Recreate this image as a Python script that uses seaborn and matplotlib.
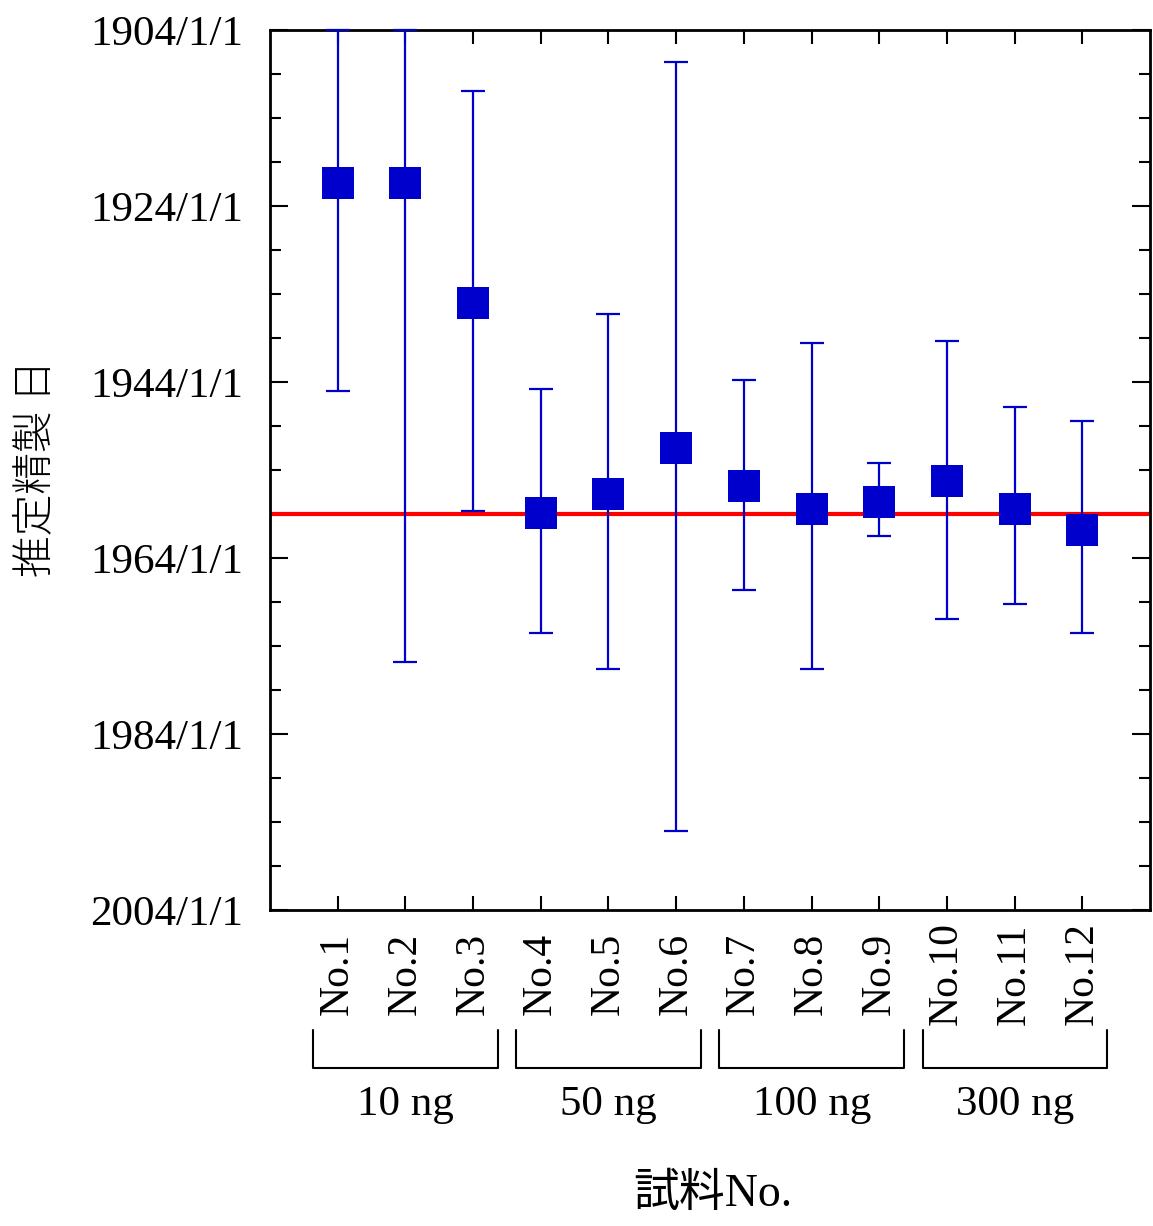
import numpy as np
import pandas as pd
import matplotlib
matplotlib.use("Agg")
import matplotlib.pyplot as plt
import matplotlib.transforms as mtransforms
import seaborn as sns

# ---- data ----
samples = ["No.1", "No.2", "No.3", "No.4", "No.5", "No.6",
           "No.7", "No.8", "No.9", "No.10", "No.11", "No.12"]
estimate = [1921.4, 1921.4, 1935.0, 1958.9, 1956.7, 1951.5,
            1955.8, 1958.4, 1957.6, 1955.3, 1958.4, 1960.8]
err_early = [1904.0, 1904.0, 1910.9, 1944.8, 1936.3, 1907.6,
             1943.8, 1939.6, 1953.2, 1939.3, 1946.8, 1948.4]
err_late = [1945.0, 1975.8, 1958.7, 1972.5, 1976.6, 1995.0,
            1967.6, 1976.6, 1961.5, 1970.9, 1969.2, 1972.5]
reference_year = 1959.0
groups = ["10 ng", "50 ng", "100 ng", "300 ng"]
group_members = [[1, 2, 3], [4, 5, 6], [7, 8, 9], [10, 11, 12]]
ytick_values = [1904, 1924, 1944, 1964, 1984, 2004]
ytick_labels = ["1904/1/1", "1924/1/1", "1944/1/1", "1964/1/1", "1984/1/1", "2004/1/1"]
yminor_values = list(range(1904, 2005, 5))
ylabel = "推定精製 日"
xlabel = "試料No."

sns.set_theme(style="ticks")
plt.rcParams["font.family"] = ["Liberation Serif", "Noto Sans CJK JP", "DejaVu Sans"]
for k in ["text.color", "axes.labelcolor", "xtick.color", "ytick.color",
          "axes.edgecolor"]:
    plt.rcParams[k] = "black"

BLUE = "#0000CC"
pos = np.arange(1, len(samples) + 1)
df = pd.DataFrame({"pos": pos, "est": estimate})

fig = plt.figure(figsize=(11.53, 12.26), dpi=100)
ax = fig.add_axes([270 / 1153, 1 - 910 / 1226, 880 / 1153, 880 / 1226])

ax.axhline(reference_year, color="#FF0000", lw=3.0, zorder=2)

est = np.array(estimate)
lower = est - np.array(err_early)
upper = np.array(err_late) - est
ax.errorbar(pos, est, yerr=[lower, upper], fmt="none", ecolor=BLUE,
            elinewidth=1.6, capsize=8.3, capthick=1.6, zorder=3, clip_on=False)

sns.scatterplot(data=df, x="pos", y="est", marker="s", s=500, color=BLUE,
                linewidth=0, ax=ax, zorder=4, legend=False)

ax.set_xlim(0, 13)
ax.set_ylim(2004, 1904)

ax.set_yticks(ytick_values)
ax.set_yticklabels(ytick_labels, fontsize=31, color="black")
ax.set_yticks(yminor_values, minor=True)
ax.set_xticks(pos)
ax.set_xticklabels(samples, rotation=90, fontsize=30, va="center", color="black")

ax.tick_params(axis="y", which="major", direction="in", length=13, width=1.5,
               left=True, right=True, pad=19, colors="black")
ax.tick_params(axis="y", which="minor", direction="in", length=8, width=1.5,
               left=True, right=True, colors="black")
ax.tick_params(axis="x", which="major", direction="in", length=10, width=1.5,
               top=True, bottom=True, pad=46, colors="black")
for sp in ax.spines.values():
    sp.set_linewidth(2.0)
    sp.set_color("black")

ax.set_xlabel("")
ax.set_ylabel("")
fig.text(35 / 1153, 1 - 468 / 1226, ylabel, rotation=90, fontsize=30,
         ha="center", va="center", color="black", fontweight="light",
         family=["Noto Sans CJK JP", "DejaVu Sans"])
fig.text(713 / 1153, 1 - 1195 / 1226, xlabel, fontsize=33,
         ha="center", va="center", color="black",
         family=["Liberation Serif", "Noto Sans CJK JP"])

# group brackets
trans = mtransforms.blended_transform_factory(ax.transData, ax.transAxes)
y_top = (910 - 1030) / 880
y_bot = (910 - 1068) / 880
y_txt = (910 - 1105) / 880
for name, members in zip(groups, group_members):
    x0 = members[0] - 0.36
    x1 = members[-1] + 0.37
    ax.plot([x0, x0, x1, x1], [y_top, y_bot, y_bot, y_top], color="black",
            lw=1.5, transform=trans, clip_on=False)
    ax.text((x0 + x1) / 2, y_txt, name, transform=trans, ha="center",
            va="center", fontsize=31, color="black")

fig.savefig("out.png", dpi=100)
